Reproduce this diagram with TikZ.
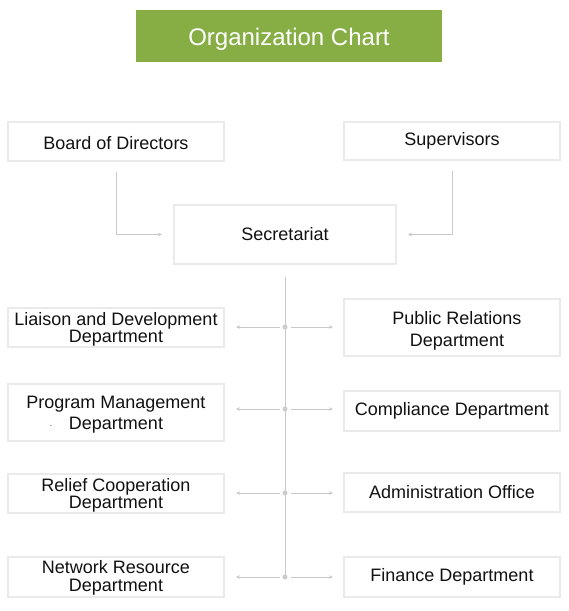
\documentclass[tikz,border=0pt]{standalone}
\usepackage{fontspec}
\setmainfont{Liberation Sans}
\usetikzlibrary{arrows.meta}
\definecolor{titlegreen}{HTML}{86AE45}
\definecolor{boxline}{HTML}{EAEAEA}
\definecolor{connline}{HTML}{C8C8C8}
\definecolor{dotfill}{HTML}{CCCCCC}
\definecolor{txt}{HTML}{111111}
\newcommand{\lift}[1]{\rule{0pt}{#1pt}}
\tikzset{
  orgbox/.style={draw=boxline, line width=2pt, minimum width=216pt, inner sep=0pt,
    align=center, text=txt, font=\fontsize{18}{17}\selectfont},
  oneline/.style={text height=15pt, text depth=0pt},
  conn/.style={draw=connline, line width=0.9pt, -{Stealth[length=4pt,width=3.5pt]}},
  hub/.style={circle, fill=dotfill, inner sep=0pt, minimum size=5pt, outer sep=3pt},
}
\begin{document}
\begin{tikzpicture}[x=1pt,y=-1pt]
\useasboundingbox (0,0) rectangle (569,611);
\node[fill=titlegreen, minimum width=306pt, minimum height=52pt, text=white,
  text height=18pt, text depth=0pt, inner sep=0pt,
  font=\fontsize{24}{26}\selectfont] (title) at (289,36) {Organization Chart};

\node[orgbox, oneline, minimum height=39pt] (board) at (116,141.5) {Board of Directors};
\node[orgbox, minimum height=38pt] (sup) at (452,141) {Supervisors};
\node[orgbox, minimum width=222pt, minimum height=59pt] (sec) at (285,234.5) {Secretariat};

\node[orgbox, minimum height=39pt] (liaison) at (116,327.5) {\lift{17}Liaison and Development\\Department};
\node[orgbox, minimum height=57pt, font=\fontsize{18}{22}\selectfont] (pr) at (452,327.5) {\lift{20}\hspace*{10pt}Public Relations\\\hspace*{10pt}Department};
\node[orgbox, minimum height=57pt, font=\fontsize{18}{21}\selectfont] (prog) at (116,412) {\lift{17}Program Management\\Department};
\node[font=\fontsize{8}{8}\selectfont, text=txt] (stray) at (51,426) {.};
\node[orgbox, minimum height=40pt] (comp) at (452,410.5) {Compliance Department};
\node[orgbox, minimum height=39pt, font=\fontsize{18}{16}\selectfont] (relief) at (116,493.5) {\lift{16}Relief Cooperation\\Department};
\node[orgbox, minimum height=39pt] (admin) at (452,492.5) {Administration Office};
\node[orgbox, minimum height=40pt, font=\fontsize{18}{18}\selectfont] (net) at (116,577) {\lift{15}Network Resource\\Department};
\node[orgbox, minimum height=40pt] (fin) at (452,576.5) {Finance Department};

\draw[conn, shorten <=10pt, shorten >=11pt] (board.south) |- (sec.west);
\draw[conn, shorten <=10pt, shorten >=11pt] (sup.south) |- (sec.east);

\coordinate (h1) at (285,327);
\coordinate (h2) at (285,409);
\coordinate (h3) at (285,493);
\coordinate (h4) at (285,577);
\draw[draw=connline, line width=0.9pt, shorten <=12pt] (sec.south) -- (h4);

\foreach \i/\l/\r in {1/liaison/pr, 2/prog/comp, 3/relief/admin, 4/net/fin}{
  \node[hub] (d\i) at (h\i) {};
  \draw[conn, shorten >=11pt] (d\i) -- (d\i -| \l.east);
  \draw[conn, shorten >=10pt] (d\i) -- (d\i -| \r.west);
}
\end{tikzpicture}
\end{document}
